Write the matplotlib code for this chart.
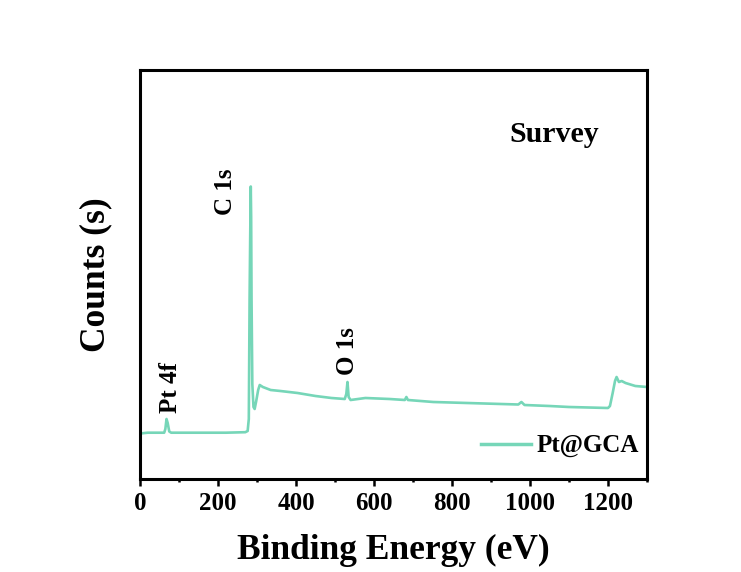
import matplotlib
matplotlib.use("Agg")
import matplotlib.pyplot as plt
from matplotlib.ticker import MultipleLocator

plt.rcParams['font.family'] = ['Liberation Serif', 'DejaVu Serif']
plt.rcParams['font.weight'] = 'bold'

# Binding energy (eV) and counts (arbitrary units)
energy = [0, 20, 50, 62, 65, 68, 71, 75, 80, 150, 220, 270, 276, 279, 281, 282.5,
          284, 285, 286, 288, 291, 294, 298, 303, 307, 315, 335, 360, 404, 450,
          491, 525, 529, 532, 535, 540, 578, 640, 679, 683, 687, 752, 839, 926,
          970, 978, 986, 1050, 1100, 1200, 1205, 1212, 1218, 1222, 1228, 1235,
          1245, 1270, 1300]
counts = [45.5, 46.3, 46.3, 46.3, 50, 60, 56, 47.5, 46.3, 46.3, 46.3, 46.8, 48,
          60, 180, 240, 292.5, 262, 180, 95, 72, 70, 78, 89, 94, 92, 89, 88, 86,
          83, 81, 80, 85, 97, 82, 79, 81, 80, 79, 82, 79, 77, 76, 75, 74.5, 77,
          74, 73, 72, 71, 73, 86, 98, 102, 97, 98, 96, 93, 92]
counts = [c * 1000 for c in counts]

peak_labels = ["Pt 4f", "C 1s", "O 1s"]
peak_label_x = [78, 220, 533]
peak_label_y = [66000, 264000, 104000]

series_name = "Pt@GCA"
line_color = "#76d6b8"

fig = plt.figure(figsize=(7.41, 5.72), dpi=100)
ax = fig.add_axes([140/741, 1 - 479/572, 507/741, 409/572])

ax.plot(energy, counts, color=line_color, lw=1.9, label=series_name)

ax.set_xlim(0, 1300)
ax.set_ylim(0, 409000)
ax.xaxis.set_major_locator(MultipleLocator(200))
ax.xaxis.set_minor_locator(MultipleLocator(100))
ax.set_yticks([])
ax.tick_params(axis='x', which='major', direction='out', length=5, width=1.8,
               labelsize=18, pad=4)
ax.tick_params(axis='x', which='minor', direction='out', length=2.5, width=1.8)
for lab in ax.get_xticklabels():
    lab.set_fontweight('bold')
for s in ax.spines.values():
    s.set_linewidth(2.2)

ax.set_xlabel("Binding Energy (eV)", fontsize=25.5, fontweight='bold', labelpad=14)
ax.set_ylabel("Counts (s)", fontsize=25.5, fontweight='bold', labelpad=20)

for t, x, y in zip(peak_labels, peak_label_x, peak_label_y):
    ax.text(x, y, t, rotation=90, ha='center', va='bottom', fontsize=18,
            fontweight='bold')

ax.text(1062, 337000, "Survey", ha='center', va='baseline', fontsize=21.5,
        fontweight='bold')

leg = ax.legend(loc='center right', bbox_to_anchor=(0.985, 0.081), frameon=False,
                fontsize=18, handlelength=2.0, handletextpad=0.25,
                borderpad=0, borderaxespad=0)
for t in leg.get_texts():
    t.set_fontweight('bold')
for h in leg.legend_handles:
    h.set_linewidth(2.5)

fig.savefig("out.png", dpi=100)
